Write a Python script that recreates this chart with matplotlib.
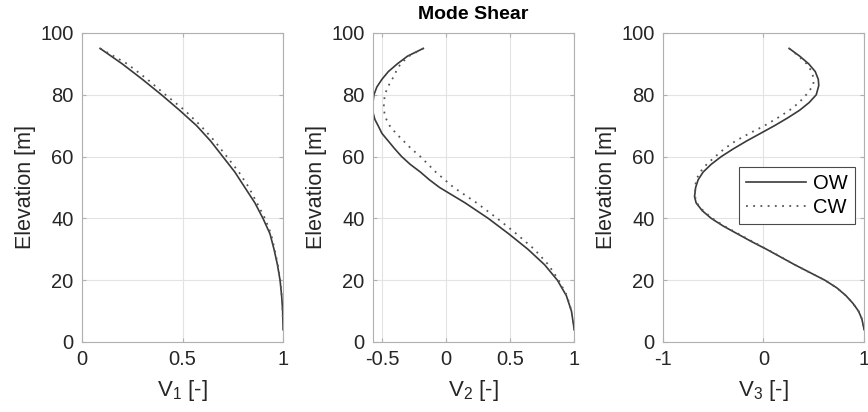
import matplotlib
matplotlib.use("Agg")
import matplotlib.pyplot as plt

plt.rcParams['font.family'] = ['Liberation Sans', 'DejaVu Sans']
plt.rcParams['mathtext.fontset'] = 'custom'
plt.rcParams['mathtext.rm'] = 'Liberation Sans'

# elevation [m]
z1 = [95, 90, 85, 80, 75, 70, 65, 60, 55, 50, 45, 40, 35, 30, 25, 20, 15, 10, 5, 4]
v1_ow = [0.09, 0.20, 0.30, 0.395, 0.485, 0.57, 0.64, 0.70, 0.76, 0.81, 0.86, 0.90, 0.935, 0.955,
         0.972, 0.985, 0.993, 0.998, 1.0, 1.0]
v1_cw = [0.09, 0.225, 0.325, 0.415, 0.51, 0.59, 0.66, 0.72, 0.78, 0.83, 0.87, 0.91, 0.94, 0.958,
         0.974, 0.986, 0.993, 0.998, 1.0, 1.0]

z2 = [95, 92.5, 90, 87.5, 85, 82.5, 80, 77.5, 76, 74, 72, 70, 67.5, 65, 62.5, 60, 57.5, 55, 52.5, 50,
      45, 40, 35, 30, 25, 20, 15, 10, 5, 4]
v2_ow = [-0.177, -0.30, -0.38, -0.45, -0.50, -0.54, -0.5625, -0.57, -0.572, -0.568, -0.555, -0.53,
         -0.50, -0.45, -0.40, -0.346, -0.28, -0.20, -0.13, -0.05, 0.15, 0.33, 0.49, 0.64, 0.77,
         0.87, 0.94, 0.98, 0.998, 1.0]
v2_cw = [-0.177, -0.29, -0.355, -0.39, -0.42, -0.455, -0.477, -0.485, -0.485, -0.48, -0.465, -0.44,
         -0.39, -0.33, -0.27, -0.20, -0.14, -0.08, -0.01, 0.06, 0.24, 0.40, 0.55, 0.69, 0.80,
         0.88, 0.945, 0.98, 0.998, 1.0]

z3 = [95, 92.5, 90, 87.5, 85, 83, 80, 77.5, 75, 72.5, 70, 67.5, 65, 62.5, 60, 57.5, 55, 52.5, 50,
      47, 45, 42.5, 40, 37.5, 35, 32.5, 30, 27.5, 25, 22.5, 20, 17.5, 15, 12.5, 10, 7.5, 5, 4]
v3_ow = [0.255, 0.36, 0.45, 0.515, 0.545, 0.55, 0.525, 0.455, 0.36, 0.24, 0.11, -0.03, -0.17,
         -0.30, -0.42, -0.52, -0.60, -0.65, -0.675, -0.686, -0.67, -0.61, -0.52, -0.40, -0.26,
         -0.12, 0.03, 0.17, 0.31, 0.46, 0.61, 0.73, 0.82, 0.89, 0.945, 0.978, 0.995, 1.0]
v3_cw = [0.255, 0.35, 0.43, 0.48, 0.50, 0.495, 0.425, 0.355, 0.26, 0.14, 0.01, -0.14, -0.28,
         -0.39, -0.48, -0.565, -0.63, -0.67, -0.68, -0.68, -0.665, -0.60, -0.51, -0.39, -0.25,
         -0.11, 0.035, 0.175, 0.31, 0.46, 0.61, 0.73, 0.82, 0.89, 0.945, 0.978, 0.995, 1.0]

panels = [
    (z1, v1_ow, v1_cw, (0, 1), [0, 0.5, 1], ['0', '0.5', '1'], 'V$_1$ [-]'),
    (z2, v2_ow, v2_cw, (-0.57, 1), [-0.5, 0, 0.5, 1], ['-0.5', '0', '0.5', '1'], 'V$_2$ [-]'),
    (z3, v3_ow, v3_cw, (-1, 1), [-1, 0, 1], ['-1', '0', '1'], 'V$_3$ [-]'),
]
lefts = [0.0945, 0.4297, 0.7638]

fig = plt.figure(figsize=(8.68, 4.12), dpi=100)
line_col = '#3a3a3a'
for i, (z, ow, cw, xl, xt, xtl, xlab) in enumerate(panels):
    ax = fig.add_axes([lefts[i], 0.170, 0.2316, 0.750])
    ax.plot(ow, z, '-', color=line_col, lw=1.2, label='OW')
    ax.plot(cw, z, linestyle=(0, (1, 3)), color='#555555', lw=1.3, label='CW')
    ax.set_xlim(*xl)
    ax.set_ylim(0, 100)
    ax.set_xticks(xt)
    ax.set_xticklabels(xtl)
    ax.set_yticks([0, 20, 40, 60, 80, 100])
    ax.grid(True, color='#e3e3e3', lw=0.8)
    ax.set_axisbelow(True)
    for s in ax.spines.values():
        s.set_color('#b0b0b0')
        s.set_linewidth(0.8)
    ax.tick_params(direction='in', length=3, color='#b0b0b0', labelsize=14.5,
                   labelcolor='#262626', top=True, right=True, pad=6)
    ax.set_xlabel(xlab, fontsize=16, color='#262626', labelpad=6)
    ax.set_ylabel('Elevation [m]', fontsize=15.5, color='#262626', labelpad=3)
    if i == 1:
        ax.set_title('Mode Shear', fontsize=14, fontweight='bold', pad=10)
    if i == 2:
        leg = ax.legend(loc='upper right', bbox_to_anchor=(0.955, 0.566), borderaxespad=0,
                        fontsize=14.5, frameon=True, fancybox=False, handlelength=3.0,
                        borderpad=0.35, labelspacing=0.25, handletextpad=0.35)
        leg.get_frame().set_edgecolor('#4a4a4a')
        leg.get_frame().set_linewidth(0.8)
        leg.get_frame().set_alpha(1)

fig.savefig('out.png', dpi=100)
